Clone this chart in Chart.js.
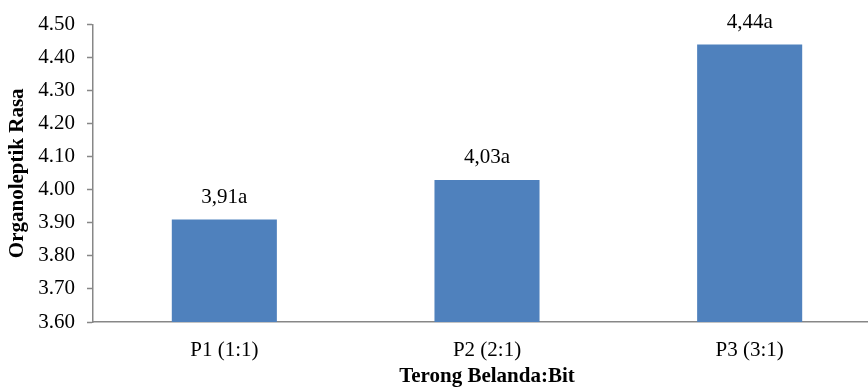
<!DOCTYPE html>
<html>
<head>
<meta charset="utf-8">
<title>Organoleptik Rasa</title>
<script src="https://cdn.jsdelivr.net/npm/chart.js@4.4.1/dist/chart.umd.min.js"></script>
<style>
  html, body { margin: 0; padding: 0; background: #fff; overflow: hidden; }
  #wrap { position: relative; width: 882px; height: 394px; }
</style>
</head>
<body>
<div id="wrap"><canvas id="chart"></canvas></div>
<script>
// Rasa (taste) scores per formulation of terong belanda : bit
const categories = ['P1 (1:1)', 'P2 (2:1)', 'P3 (3:1)'];
const scores = [3.91, 4.03, 4.44];
const notations = ['a', 'a', 'a'];
const yTickValues = [3.6, 3.7, 3.8, 3.9, 4.0, 4.1, 4.2, 4.3, 4.4, 4.5];
const xTitle = 'Terong Belanda:Bit';
const yTitle = 'Organoleptik Rasa';

const FONT = "'Liberation Serif', 'Times New Roman', serif";
const AXIS_GREY = '#878787';

// Writes "3,91a" style labels above each bar
const valueLabels = {
  id: 'valueLabels',
  afterDatasetsDraw(chart) {
    const ctx = chart.ctx;
    const meta = chart.getDatasetMeta(0);
    ctx.save();
    ctx.font = '21px ' + FONT;
    ctx.fillStyle = '#000';
    ctx.textAlign = 'center';
    ctx.textBaseline = 'alphabetic';
    meta.data.forEach((bar, i) => {
      const txt = scores[i].toFixed(2).replace('.', ',') + notations[i];
      ctx.fillText(txt, bar.x, bar.y - 16.5);
    });
    ctx.restore();
  }
};

new Chart(document.getElementById('chart'), {
  type: 'bar',
  data: {
    labels: categories,
    datasets: [{
      data: scores,
      backgroundColor: '#4F81BD',
      borderWidth: 0,
      categoryPercentage: 1.0,
      barPercentage: 0.4
    }]
  },
  options: {
    responsive: true,
    maintainAspectRatio: false,
    animation: false,
    layout: { padding: { top: 23, right: 1, left: 0, bottom: 0 } },
    plugins: {
      legend: { display: false },
      tooltip: { enabled: false }
    },
    scales: {
      x: {
        grid: { display: false, drawTicks: false },
        border: { display: true, color: AXIS_GREY, width: 1.5 },
        ticks: {
          color: '#000',
          font: { family: FONT, size: 21 },
          padding: 16,
          maxRotation: 0
        },
        title: {
          display: true,
          text: xTitle,
          color: '#000',
          font: { family: FONT, size: 21, weight: 'bold' },
          padding: { top: 0, bottom: 5 }
        },
        afterFit(scale) { scale.height = 72; }
      },
      y: {
        min: 3.6,
        max: 4.5,
        grid: {
          display: true,
          drawOnChartArea: false,
          drawTicks: true,
          tickLength: 6,
          tickColor: AXIS_GREY,
          tickWidth: 1.5
        },
        border: { display: true, color: AXIS_GREY, width: 1.5 },
        afterBuildTicks(scale) {
          scale.ticks = yTickValues.map(v => ({ value: v }));
        },
        ticks: {
          color: '#000',
          font: { family: FONT, size: 21 },
          padding: 12,
          callback: v => Number(v).toFixed(2)
        },
        title: {
          display: true,
          text: yTitle,
          color: '#000',
          font: { family: FONT, size: 21, weight: 'bold' },
          padding: { top: 5, bottom: 0 }
        },
        afterFit(scale) { scale.width = 93; }
      }
    }
  },
  plugins: [valueLabels]
});
</script>
</body>
</html>
